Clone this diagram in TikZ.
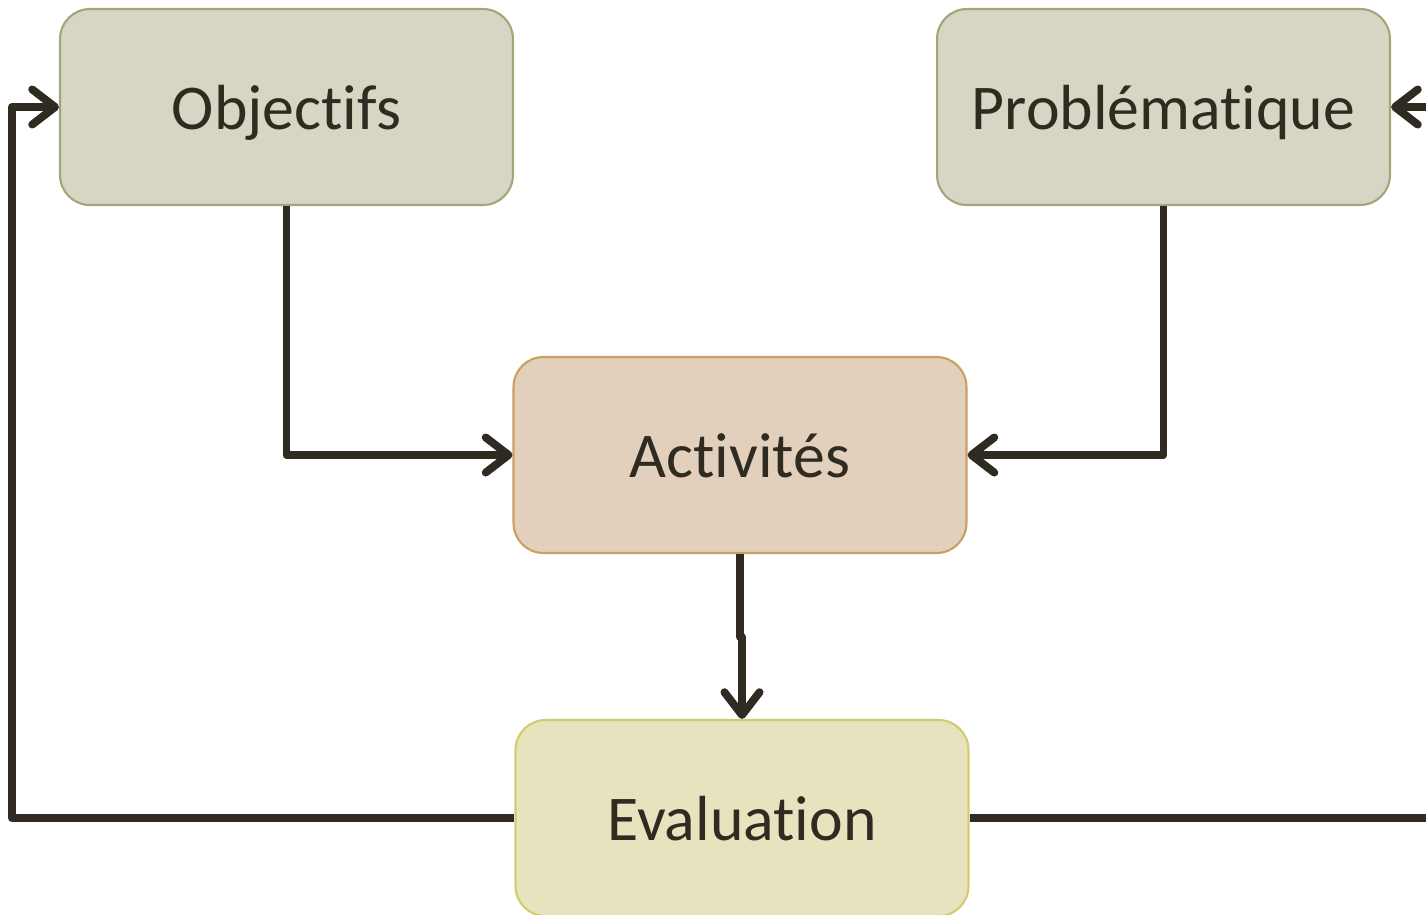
\documentclass[tikz,border=0pt]{standalone}
\usepackage{fontspec}
\setmainfont{Carlito}[Ligatures=NoCommon]
\usetikzlibrary{positioning,arrows.meta}

\definecolor{ink}{HTML}{2F2B20}
\definecolor{greyfill}{HTML}{D7D5C4}
\definecolor{greyline}{HTML}{A6A57A}
\definecolor{rosefill}{HTML}{E3D0BC}
\definecolor{roseline}{HTML}{C9A060}
\definecolor{yellowfill}{HTML}{E8E3BF}
\definecolor{yellowline}{HTML}{D3CB6E}

\begin{document}
\begin{tikzpicture}[
x=0.02cm, y=-0.02cm,
grey_box/.style={rectangle, rounded corners=17pt, draw=greyline, fill=greyfill, line width=1.2pt, minimum width=9.06cm, minimum height=3.92cm, text=ink, font=\fontsize{36.3}{44}\selectfont, text height=30pt, text depth=4pt},
rose_box/.style={grey_box, draw=roseline, fill=rosefill},
yellow_box/.style={grey_box, draw=yellowline, fill=yellowfill},
out_arrow/.style={-{Straight Barb[length=13pt,width=20pt,round]}, line width=4.5pt, draw=ink, line join=round}
]

\useasboundingbox (0,0) rectangle (1426,914);

\node[grey_box](objectifs) at (286.5,107) {Objectifs};
\node[grey_box](problematique) at (1163.5,107) {Problématique};
\node[rose_box](activites) at (740,455) {Activités};
\node[yellow_box](evaluation) at (742,818) {Evaluation};

\draw[out_arrow](objectifs.south) |- (activites.west);
\draw[out_arrow](problematique.south) |- (activites.east);
\draw[out_arrow](activites.south) -- ++(0,83) -| (evaluation.north);

\draw[out_arrow](evaluation.west) -- (12,818) |- (objectifs.west);
\draw[out_arrow](evaluation.east) -- (1450,818) |- (problematique.east);
\end{tikzpicture}
\end{document}
